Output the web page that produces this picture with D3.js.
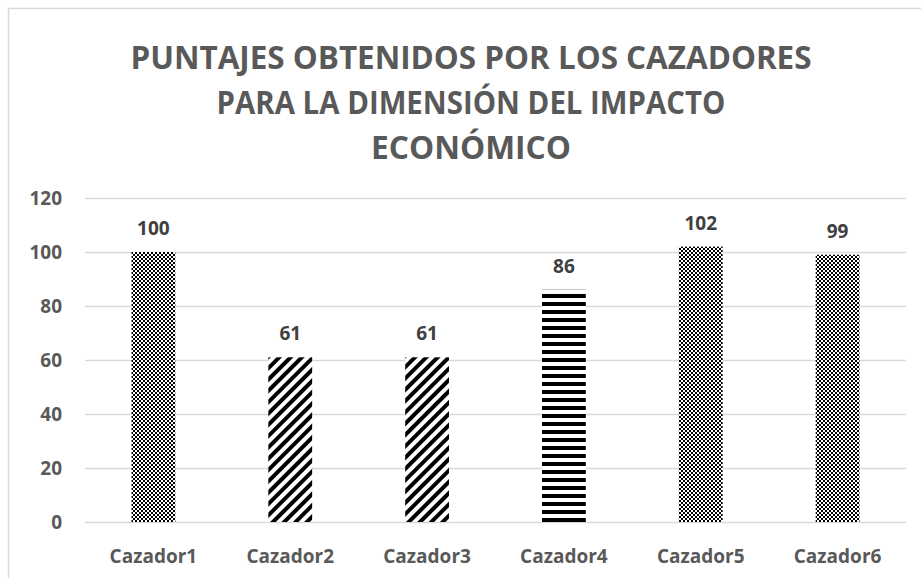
<!DOCTYPE html>
<html>
<head>
<meta charset="utf-8">
<script src="https://cdn.jsdelivr.net/npm/d3@7"></script>
<style>
  body { margin: 0; background: #fff; }
  text { font-family: "Open Sans", sans-serif; font-weight: bold; }
</style>
</head>
<body>
<div id="chart"></div>
<script>
const cazadores = ["Cazador1", "Cazador2", "Cazador3", "Cazador4", "Cazador5", "Cazador6"]
const puntajes = [100, 61, 61, 86, 102, 99]
const tramas = ["cuadros", "diagonal", "diagonal", "horizontal", "cuadros", "cuadros"]
const yTicks = [0, 20, 40, 60, 80, 100, 120]
const titulo = ["PUNTAJES OBTENIDOS POR LOS CAZADORES", "PARA LA DIMENSIÓN DEL IMPACTO", "ECONÓMICO"]
const anchoTitulo = [681, 509, 200]

const width = 921
const height = 578
const margin = { top: 198, left: 85, bottom: 56, right: 15 }
const iwidth = width - margin.left - margin.right
const iheight = height - margin.top - margin.bottom

const svg = d3.select("#chart").append("svg")
    .attr("width", width)
    .attr("height", height)

// patterns
const defs = svg.append("defs")
const checker = defs.append("pattern")
    .attr("id", "cuadros")
    .attr("patternUnits", "userSpaceOnUse")
    .attr("width", 4).attr("height", 4)
checker.append("rect").attr("width", 4).attr("height", 4).attr("fill", "#fff")
checker.append("rect").attr("width", 2).attr("height", 2).attr("fill", "#000")
checker.append("rect").attr("x", 2).attr("y", 2).attr("width", 2).attr("height", 2).attr("fill", "#000")

const diag = defs.append("pattern")
    .attr("id", "diagonal")
    .attr("patternUnits", "userSpaceOnUse")
    .attr("width", 8).attr("height", 8)
    .attr("patternTransform", "rotate(45)")
diag.append("rect").attr("width", 8).attr("height", 8).attr("fill", "#fff")
diag.append("rect").attr("width", 4).attr("height", 8).attr("fill", "#000")

const horiz = defs.append("pattern")
    .attr("id", "horizontal")
    .attr("patternUnits", "userSpaceOnUse")
    .attr("width", 8).attr("height", 8)
horiz.append("rect").attr("width", 8).attr("height", 8).attr("fill", "#fff")
horiz.append("rect").attr("width", 8).attr("height", 4).attr("fill", "#000")

// chart border
svg.append("rect")
    .attr("x", 8.5).attr("y", 8.5)
    .attr("width", width + 10).attr("height", height + 10)
    .attr("fill", "none")
    .attr("stroke", "#d9d9d9")
    .attr("stroke-width", 1.5)

// title (Calibri-like: taller, narrower)
svg.append("g").selectAll("text").data(titulo).join("text")
    .attr("x", 471)
    .attr("y", (d, i) => 69 + i * 45)
    .attr("text-anchor", "middle")
    .attr("fill", "#595959")
    .attr("font-size", 33)
    .attr("textLength", (d, i) => anchoTitulo[i])
    .attr("lengthAdjust", "spacingAndGlyphs")
    .text(d => d)

const g = svg.append("g")
    .attr("transform", `translate(${margin.left}, ${margin.top})`)

const x = d3.scaleBand()
    .domain(cazadores)
    .range([0, iwidth])
    .paddingInner(0.68)
    .paddingOuter(0.34)

const y = d3.scaleLinear()
    .domain([0, 120])
    .range([iheight, 0])

// grid
g.append("g")
    .selectAll("line")
    .data(yTicks)
    .join("line")
    .attr("x1", 0)
    .attr("x2", iwidth)
    .attr("y1", d => Math.round(y(d)) + 0.5)
    .attr("y2", d => Math.round(y(d)) + 0.5)
    .attr("stroke", "#d9d9d9")
    .attr("stroke-width", 1.5)

// y labels
g.append("g")
    .selectAll("text")
    .data(yTicks)
    .join("text")
    .attr("x", -23)
    .attr("y", d => y(d))
    .attr("dy", "0.36em")
    .attr("text-anchor", "end")
    .attr("font-size", 19)
    .attr("fill", "#595959")
    .text(d => d)

// x labels
g.append("g")
    .selectAll("text")
    .data(cazadores)
    .join("text")
    .attr("x", d => x(d) + x.bandwidth() / 2)
    .attr("y", iheight + 41)
    .attr("text-anchor", "middle")
    .attr("font-size", 19)
    .attr("fill", "#595959")
    .text(d => d)

// bars
const data = cazadores.map((c, i) => ({ c, v: puntajes[i], p: tramas[i] }))
g.selectAll("rect.bar")
    .data(data)
    .join("rect")
    .attr("class", "bar")
    .attr("x", d => x(d.c))
    .attr("y", d => y(d.v))
    .attr("width", x.bandwidth())
    .attr("height", d => iheight - y(d.v))
    .attr("fill", d => `url(#${d.p})`)

// value labels
g.selectAll("text.val")
    .data(data)
    .join("text")
    .attr("class", "val")
    .attr("x", d => x(d.c) + x.bandwidth() / 2)
    .attr("y", d => y(d.v) - 17)
    .attr("text-anchor", "middle")
    .attr("font-size", 19)
    .attr("fill", "#404040")
    .text(d => d.v)
</script>
</body>
</html>
